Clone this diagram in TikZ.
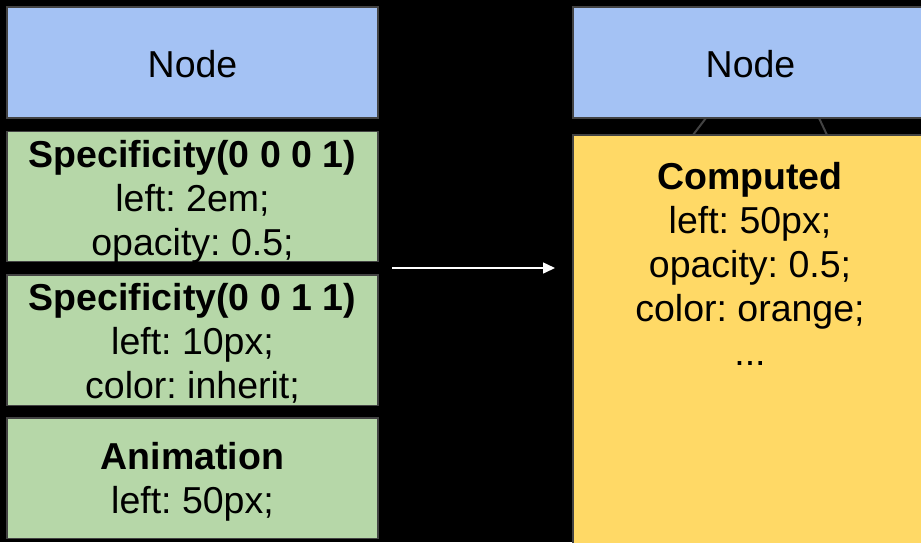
\documentclass[tikz,border=0pt]{standalone}
\usepackage{fontspec}
\setmainfont{Liberation Sans}
\usetikzlibrary{arrows.meta}
\frenchspacing
\definecolor{nodeblue}{HTML}{A4C2F4}
\definecolor{rulegreen}{HTML}{B6D7A8}
\definecolor{compyellow}{HTML}{FFD966}
\definecolor{edgegray}{HTML}{434343}
\tikzset{
  box/.style={draw=edgegray, line width=1.4pt, rectangle, inner sep=0pt},
  label text/.style={align=center, inner sep=0pt, font=\fontsize{37.5}{44}\selectfont},
  bluebox/.style={box, fill=nodeblue},
  greenbox/.style={box, fill=rulegreen, minimum width=371pt},
  link/.style={draw=edgegray, line width=2pt},
  flow/.style={draw=white, line width=1.5pt, -{Triangle[length=12pt,width=11pt]}}
}
\begin{document}
\begin{tikzpicture}[x=1pt,y=-1pt]
  \useasboundingbox (0,0) rectangle (921,542);
  \clip (0,0) rectangle (921,542);
  \fill[black] (0,0) rectangle (921,542);

  % left column: element and its matching rules
  \node[bluebox, minimum width=371pt, minimum height=111pt] (lnode) at (192.5,62.5) {};
  \node[label text] (lnodetext) at (192.5,64) {Node};
  \node[greenbox, minimum height=130pt] (spec1) at (192.5,196.7) {};
  \node[label text] (spec1text) at (192.5,201.5)
    {\textbf{Specificity(0 0 0 1)}\\left: 2em;\\opacity: 0.5;};
  \node[greenbox, minimum height=130.5pt] (spec2) at (192.5,340.3) {};
  \node[label text] (spec2text) at (192.5,343)
    {\textbf{Specificity(0 0 1 1)}\\left: 10px;\\color: inherit;};
  \node[greenbox, minimum height=120.5pt] (anim) at (192.5,478.3) {};
  \node[label text] (animtext) at (192.5,482)
    {\textbf{Animation}\\left: 50px;};

  % right column: element and its computed style
  \node[bluebox, minimum width=355pt, minimum height=111pt] (rnode) at (750.5,62.5) {};
  \node[label text] (rnodetext) at (750.5,64) {Node};
  \node[box, fill=compyellow, minimum width=355pt, minimum height=425pt] (comp) at (750.5,347.5) {};
  \node[label text] (comptext) at (750,263.5)
    {\textbf{Computed}\\left: 50px;\\opacity: 0.5;\\color: orange;\\...};

  % short links between the right node and its computed box
  \coordinate (la) at (706,118);
  \coordinate (lb) at (693,135);
  \coordinate (ra) at (819,118);
  \coordinate (rb) at (827,135);
  \draw[link] (la) -- (lb);
  \draw[link] (ra) -- (rb);

  % cascade arrow
  \coordinate (arrowstart) at (392,268);
  \coordinate (arrowend) at (555,268);
  \draw[flow] (arrowstart) -- (arrowend);
\end{tikzpicture}
\end{document}
